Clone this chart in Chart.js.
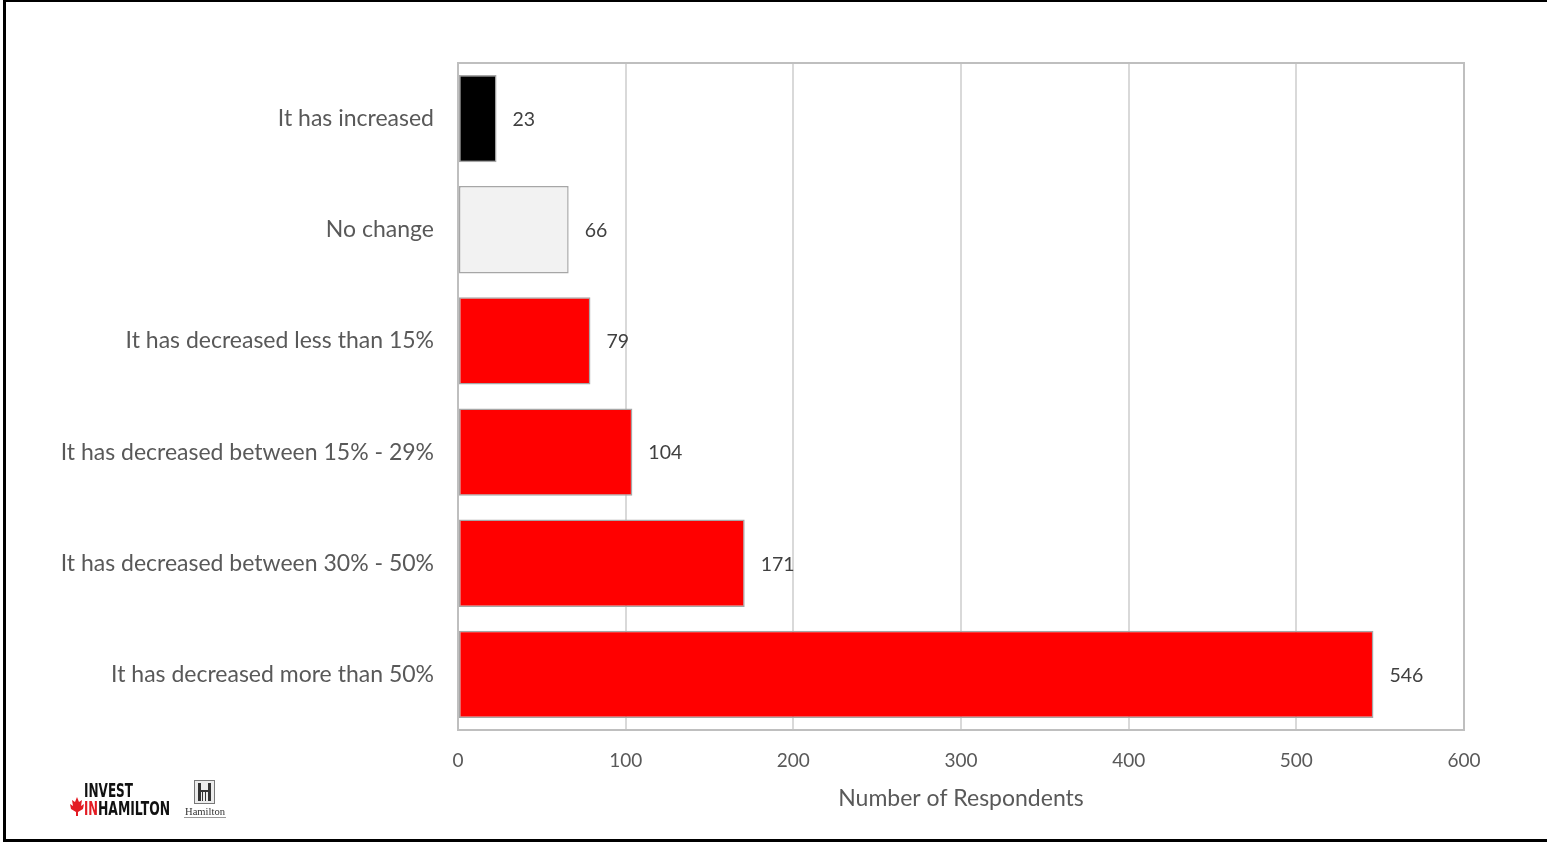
<!DOCTYPE html>
<html>
<head>
<meta charset="utf-8">
<script src="https://cdn.jsdelivr.net/npm/chart.js@4/dist/chart.umd.min.js"></script>
<style>
  html, body { margin: 0; padding: 0; background: #fff; overflow: hidden; }
  #wrap { position: relative; width: 1547px; height: 842px; }
  #frame {
    position: absolute; left: 3px; top: 0; width: 1600px; height: 837px;
    border-left: 3px solid #000; border-top: 2px solid #000; border-bottom: 3px solid #000;
    pointer-events: none;
  }
</style>
</head>
<body>
<div id="wrap">
  <canvas id="respChart" width="1547" height="842"></canvas>
  <div id="frame"></div>
</div>
<script>
const categories = [
  "It has increased",
  "No change",
  "It has decreased less than 15%",
  "It has decreased between 15% - 29%",
  "It has decreased between 30% - 50%",
  "It has decreased more than 50%"
];
const respondents = [23, 66, 79, 104, 171, 546];
const barColors = ["#000000", "#f2f2f2", "#ff0000", "#ff0000", "#ff0000", "#ff0000"];
const xTicks = [0, 100, 200, 300, 400, 500, 600];

const fontFamily = "Lato, 'Noto Sans', sans-serif";

// value labels right of each bar
const valueLabels = {
  id: "valueLabels",
  afterDatasetsDraw(chart) {
    const ctx = chart.ctx;
    const meta = chart.getDatasetMeta(0);
    ctx.save();
    ctx.font = "19.5px " + fontFamily;
    ctx.fillStyle = "#404040";
    ctx.textAlign = "left";
    ctx.textBaseline = "middle";
    meta.data.forEach((bar, i) => {
      ctx.fillText(String(respondents[i]), bar.x + 16, bar.y + 1);
    });
    ctx.restore();
  }
};

// plot area outline
const plotBorder = {
  id: "plotBorder",
  beforeDatasetsDraw(chart) {
    const a = chart.chartArea;
    const ctx = chart.ctx;
    ctx.save();
    ctx.strokeStyle = "#bfbfbf";
    ctx.lineWidth = 2;
    ctx.strokeRect(a.left, a.top, a.right - a.left, a.bottom - a.top);
    ctx.restore();
  }
};

// squeezed text to a given width
function fitText(ctx, text, x, y, width) {
  const w = ctx.measureText(text).width;
  ctx.save();
  ctx.translate(x, y);
  ctx.scale(width / w, 1);
  ctx.fillText(text, 0, 0);
  ctx.restore();
}

// logos bottom-left
const logos = {
  id: "logos",
  afterDraw(chart) {
    const ctx = chart.ctx;
    ctx.save();
    // maple leaf
    ctx.fillStyle = "#e31b23";
    ctx.beginPath();
    const lx = 77, ly = 806;
    ctx.moveTo(lx, ly - 9);
    ctx.lineTo(lx + 2, ly - 4);
    ctx.lineTo(lx + 5, ly - 6);
    ctx.lineTo(lx + 4, ly);
    ctx.lineTo(lx + 7, ly - 2);
    ctx.lineTo(lx + 6, ly + 3);
    ctx.lineTo(lx + 1, ly + 6);
    ctx.lineTo(lx + 1, ly + 10);
    ctx.lineTo(lx - 1, ly + 10);
    ctx.lineTo(lx - 1, ly + 6);
    ctx.lineTo(lx - 6, ly + 3);
    ctx.lineTo(lx - 7, ly - 2);
    ctx.lineTo(lx - 4, ly);
    ctx.lineTo(lx - 5, ly - 6);
    ctx.lineTo(lx - 2, ly - 4);
    ctx.closePath();
    ctx.fill();

    ctx.font = "bold 20px 'DejaVu Sans', sans-serif";
    ctx.textBaseline = "alphabetic";
    ctx.textAlign = "left";
    ctx.fillStyle = "#111";
    fitText(ctx, "INVEST", 84, 797, 49);
    ctx.fillStyle = "#e31b23";
    fitText(ctx, "IN", 84, 815, 14);
    ctx.fillStyle = "#111";
    fitText(ctx, "HAMILTON", 98, 815, 72);

    // city mark
    ctx.fillStyle = "#ececec";
    ctx.fillRect(194, 780, 21, 24);
    ctx.strokeStyle = "#777";
    ctx.lineWidth = 1;
    ctx.strokeRect(194.5, 780.5, 20, 23);
    ctx.fillStyle = "#333";
    ctx.fillRect(198, 783, 3, 18);
    ctx.fillRect(208, 783, 3, 18);
    ctx.fillRect(198, 790, 13, 2);
    ctx.fillRect(202, 792, 1, 9);
    ctx.fillRect(205, 792, 1, 9);
    ctx.font = "10px 'Liberation Serif', serif";
    ctx.fillStyle = "#333";
    ctx.textAlign = "left";
    fitText(ctx, "Hamilton", 185, 815, 40);
    ctx.strokeStyle = "#999";
    ctx.beginPath();
    ctx.moveTo(184, 817.5);
    ctx.lineTo(226, 817.5);
    ctx.stroke();
    ctx.restore();
  }
};

new Chart(document.getElementById("respChart").getContext("2d"), {
  type: "bar",
  data: {
    labels: categories,
    datasets: [{
      data: respondents,
      backgroundColor: barColors,
      borderColor: "#a6a6a6",
      borderWidth: 1.5,
      borderSkipped: false,
      categoryPercentage: 1,
      barPercentage: 0.785
    }]
  },
  options: {
    indexAxis: "y",
    responsive: false,
    animation: false,
    layout: { padding: { top: 63, right: 83, bottom: 30, left: 0 } },
    plugins: {
      legend: { display: false },
      tooltip: { enabled: false }
    },
    scales: {
      x: {
        min: 0,
        max: 600,
        afterBuildTicks(scale) {
          scale.ticks = xTicks.map(v => ({ value: v }));
        },
        afterFit(scale) { scale.height = 82; },
        grid: { color: "#d9d9d9", lineWidth: 2, drawTicks: false },
        border: { display: false },
        ticks: {
          padding: 19,
          color: "#595959",
          font: { family: fontFamily, size: 19 }
        },
        title: {
          display: true,
          text: "Number of Respondents",
          color: "#595959",
          font: { family: fontFamily, size: 23 },
          padding: { top: 14, bottom: 0 }
        }
      },
      y: {
        afterFit(scale) { scale.width = 458; },
        grid: { display: false, drawTicks: false },
        border: { display: false },
        ticks: {
          padding: 24,
          color: "#595959",
          font: { family: fontFamily, size: 23 }
        }
      }
    }
  },
  plugins: [plotBorder, valueLabels, logos]
});
</script>
</body>
</html>
